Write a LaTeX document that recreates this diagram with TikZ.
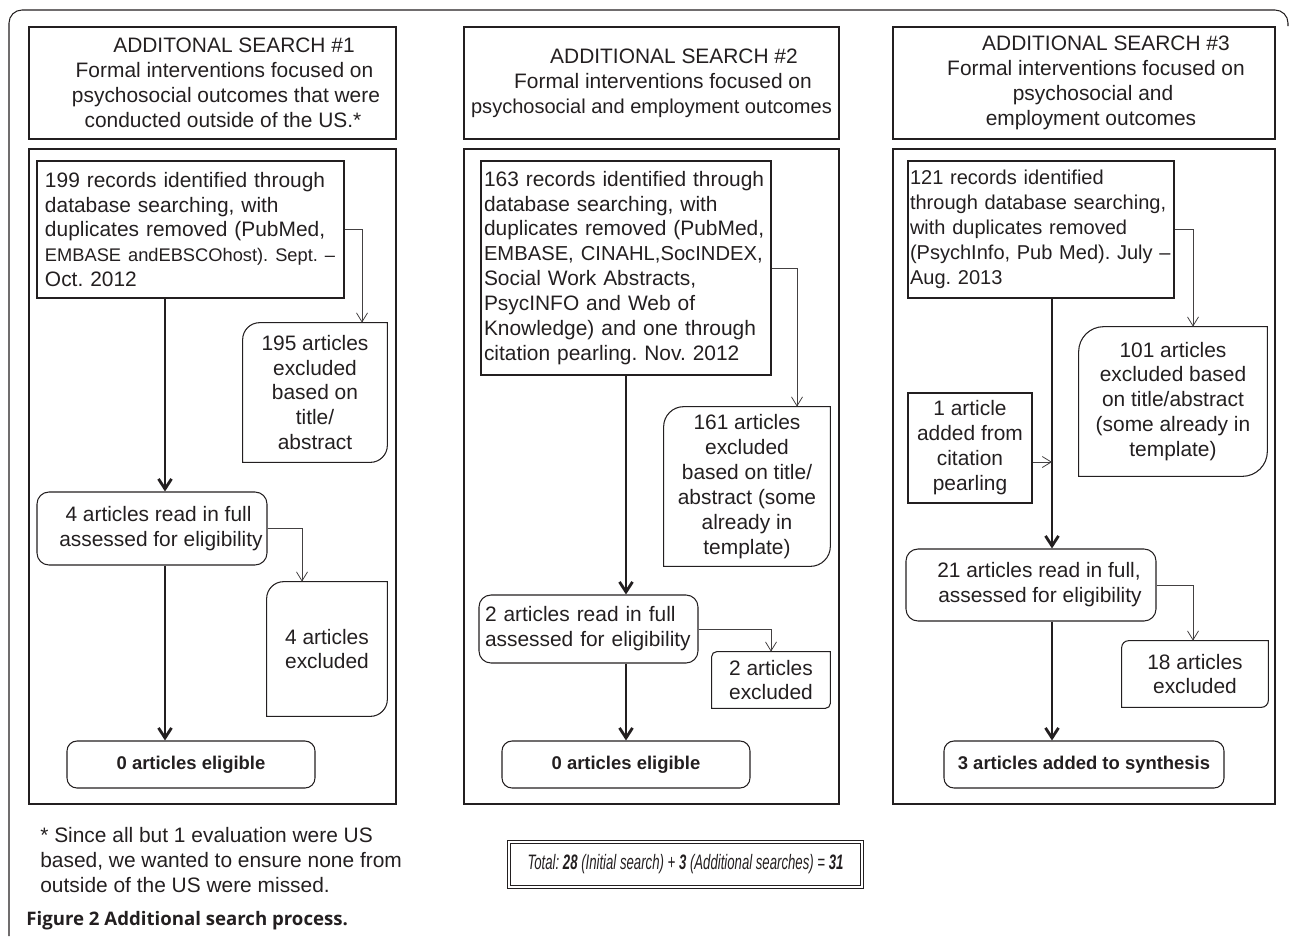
\documentclass[tikz,border=0pt]{standalone}
\usepackage{fontspec}
\setmainfont{Liberation Sans}
\newfontfamily\narrowfont[FakeStretch=0.63]{Liberation Sans}
\newfontfamily\capfont{Open Sans}
\usetikzlibrary{arrows.meta}
\definecolor{ink}{HTML}{231F20}
\frenchspacing
\hyphenpenalty=10000
\exhyphenpenalty=10000

\begin{document}
\begin{tikzpicture}[x=0.2mm, y=-0.2mm, font=\fontsize{11.9}{14.2}\selectfont,
    every node/.style={text=ink, inner sep=0pt},
    plainbox/.style={draw=ink, line width=0.6pt},
    records/.style={plainbox, align=left},
    excl/.style={align=center},
    readbox/.style={plainbox, rounded corners=2.4mm, align=center},
    result/.style={plainbox, rounded corners=2mm, font=\fontsize{10.5}{14.2}\selectfont\bfseries},
    main/.style={ink, line width=1.6pt, -{Straight Barb[length=2mm, width=2.6mm]}},
    side/.style={ink!85, line width=0.45pt, -{Straight Barb[length=1.8mm, width=2.2mm]}}]
    \useasboundingbox (0,0) rectangle (1290,936);
    \draw [ink, line width=0.6pt, rounded corners=2.6mm] (9,936) -- (9,10) -- (1288,10) -- (1288,26);

    \coordinate (s1) at (165,0); % main flow, column 1
    \coordinate (s2) at (626,0); % column 2
    \coordinate (s3) at (1052,0); % column 3
    \coordinate (k1) at (362,0);
    \coordinate (k2) at (302,0);
    \coordinate (k3) at (797,0);
    \coordinate (k5) at (1193,0);

    % search 1
    \node [plainbox, align=center, minimum width=73.4mm, minimum height=22.4mm] (h1) at (212.5,83)
        {\hspace*{8.6mm}ADDITONAL SEARCH \#1\\\hspace*{4.8mm}Formal interventions focused on\\\hspace*{5.4mm}psychosocial outcomes that were\\\hspace*{4.2mm}conducted outside of the US.*};
    \node [plainbox, minimum width=73.4mm, minimum height=131mm] (p1) at (212.5,476.5) {};
    \node [records, text width=58.2mm, inner xsep=1.6mm, minimum height=27.4mm] (r1) at (190.5,229.5)
        {199 records identified through\\database searching, with\\duplicates removed (PubMed,\\{\fontsize{10.4}{14.2}\selectfont EMBASE andEBSCOhost). Sept. –}\\Oct. 2012};
    \node [excl, minimum width=28.8mm, minimum height=27.8mm] (e1) at (315,392.5)
        {195 articles\\excluded\\based on\\title/\\abstract};
    \node [readbox, minimum width=46mm, minimum height=14.6mm] (d1) at (152,528.5)
        {\hspace*{2.6mm}4 articles read in full\\\hspace*{3.6mm}assessed for eligibility};
    \node [excl, minimum width=24mm, minimum height=26.8mm] (e2) at (327,649) {4 articles\\excluded};
    \node [result, minimum width=49.6mm, minimum height=9.4mm] (f1) at (191,764.5) {0 articles eligible};

    % search 2
    \node [plainbox, align=center, minimum width=75mm, minimum height=22.4mm] (h2) at (651.5,83)
        {\hspace*{9mm}ADDITIONAL SEARCH \#2\\\hspace*{4.6mm}Formal interventions focused on\\{\fontsize{11.4}{14.2}\selectfont psychosocial and employment outcomes}};
    \node [plainbox, minimum width=75mm, minimum height=131mm] (p2) at (651.5,476.5) {};
    \node [records, text width=56.8mm, inner xsep=0.6mm, minimum height=42.8mm] (r2) at (626,268)
        {163 records identified through\\database searching, with\\duplicates removed (PubMed,\\{\fontsize{11.5}{14.2}\selectfont EMBASE, CINAHL,SocINDEX,}\\Social Work Abstracts,\\PsycINFO and Web of\\Knowledge) and one through\\citation pearling. Nov. 2012};
    \node [excl, minimum width=33.2mm, minimum height=31.8mm] (e3) at (747,486.5)
        {161 articles\\excluded\\based on title/\\abstract (some\\already in\\template)};
    \node [records, text width=41.4mm, inner xsep=1.2mm, minimum height=13.6mm, rounded corners=2.4mm] (d2) at (588.5,629)
        {2 articles read in full\\assessed for eligibility};
    \node [excl, minimum width=23.6mm, minimum height=11.2mm] (e4) at (771,680) {2 articles\\excluded};
    \node [result, minimum width=49.6mm, minimum height=9.4mm] (f2) at (626,764.5) {0 articles eligible};

    % search 3
    \node [plainbox, align=center, minimum width=76.4mm, minimum height=22.4mm] (h3) at (1084,83)
        {\hspace*{8.8mm}ADDITIONAL SEARCH \#3\\\hspace*{4.8mm}Formal interventions focused on\\\hspace*{3.6mm}psychosocial and\\\hspace*{2.8mm}employment outcomes};
    \node [plainbox, minimum width=76.4mm, minimum height=131mm] (p3) at (1084,476.5) {};
    \node [records, text width=52.4mm, inner xsep=0.4mm, minimum height=27.4mm,
        font=\fontsize{11.4}{14.2}\selectfont] (r3) at (1041,229.5)
        {121 records identified\\through database searching,\\with duplicates removed\\(PsychInfo, Pub Med). July –\\Aug. 2013};
    \node [excl, minimum width=37.6mm, minimum height=29.8mm] (e5) at (1173,401.5)
        {101 articles\\excluded based\\on title/abstract\\(some already in\\template)};
    \node [plainbox, align=center, minimum width=24.8mm, minimum height=22mm] (c3) at (970,448)
        {1 article\\added from\\citation\\pearling};
    \node [readbox, minimum width=50mm, minimum height=14.4mm] (d3) at (1031,585)
        {\hspace*{3.2mm}21 articles read in full,\\\hspace*{3.6mm}assessed for eligibility};
    \node [excl, minimum width=29.2mm, minimum height=13.2mm] (e6) at (1195,674) {18 articles\\excluded};
    \node [result, minimum width=56mm, minimum height=9.4mm] (f3) at (1084,764.5) {3 articles added to synthesis};

    % exclusion boxes: round top left and bottom right
    \foreach \n/\r in {e1/3.4mm, e2/3.4mm, e3/4mm, e4/1mm, e5/5mm, e6/1.4mm}
        \draw [ink, line width=0.6pt] ([yshift=-\r]\n.north west) arc [start angle=180, end angle=90, radius=\r]
            -- (\n.north east) -- ([yshift=\r]\n.south east) arc [start angle=0, end angle=-90, radius=\r]
            -- (\n.south west) -- cycle;

    \draw [main] (r1.south -| s1) -- (d1.north -| s1);
    \draw [main] (d1.south -| s1) -- (f1.north -| s1);
    \draw [main] (r2.south -| s2) -- (d2.north -| s2);
    \draw [main] (d2.south -| s2) -- (f2.north -| s2);
    \draw [main] (r3.south -| s3) -- (d3.north -| s3);
    \draw [main] (d3.south -| s3) -- (f3.north -| s3);

    \draw [side] (r1.east) -| (k1 |- e1.north);
    \draw [side] (d1.east) -| (k2 |- e2.north);
    \draw [side] (r2.east) -| (k3 |- e3.north);
    \draw [side] (d2.east) -| (e4.north);
    \draw [side] (r3.east) -| (k5 |- e5.north);
    \draw [side] (d3.east) -| (k5 |- e6.north);
    \draw [side] ([yshift=-2.8mm]c3.east) -- ([yshift=-2.8mm]c3.east -| s3);

    \node [anchor=west, align=left] (note) at (40,860)
        {* Since all but 1 evaluation were US\\based, we wanted to ensure none from\\outside of the US were missed.};
    \node [draw=ink, double, double distance=0.4mm, line width=0.4pt, minimum width=70.6mm, minimum height=9mm,
        font=\narrowfont\itshape\fontsize{11.9}{14.2}\selectfont] (total) at (685.5,864.5)
        {Total: \textbf{28} (Initial search) + \textbf{3} (Additional searches) = \textbf{31}};
    \node [anchor=west, font=\capfont\bfseries\fontsize{10.6}{12}\selectfont] (cap) at (26,921)
        {Figure 2 Additional search process.};
\end{tikzpicture}
\end{document}
